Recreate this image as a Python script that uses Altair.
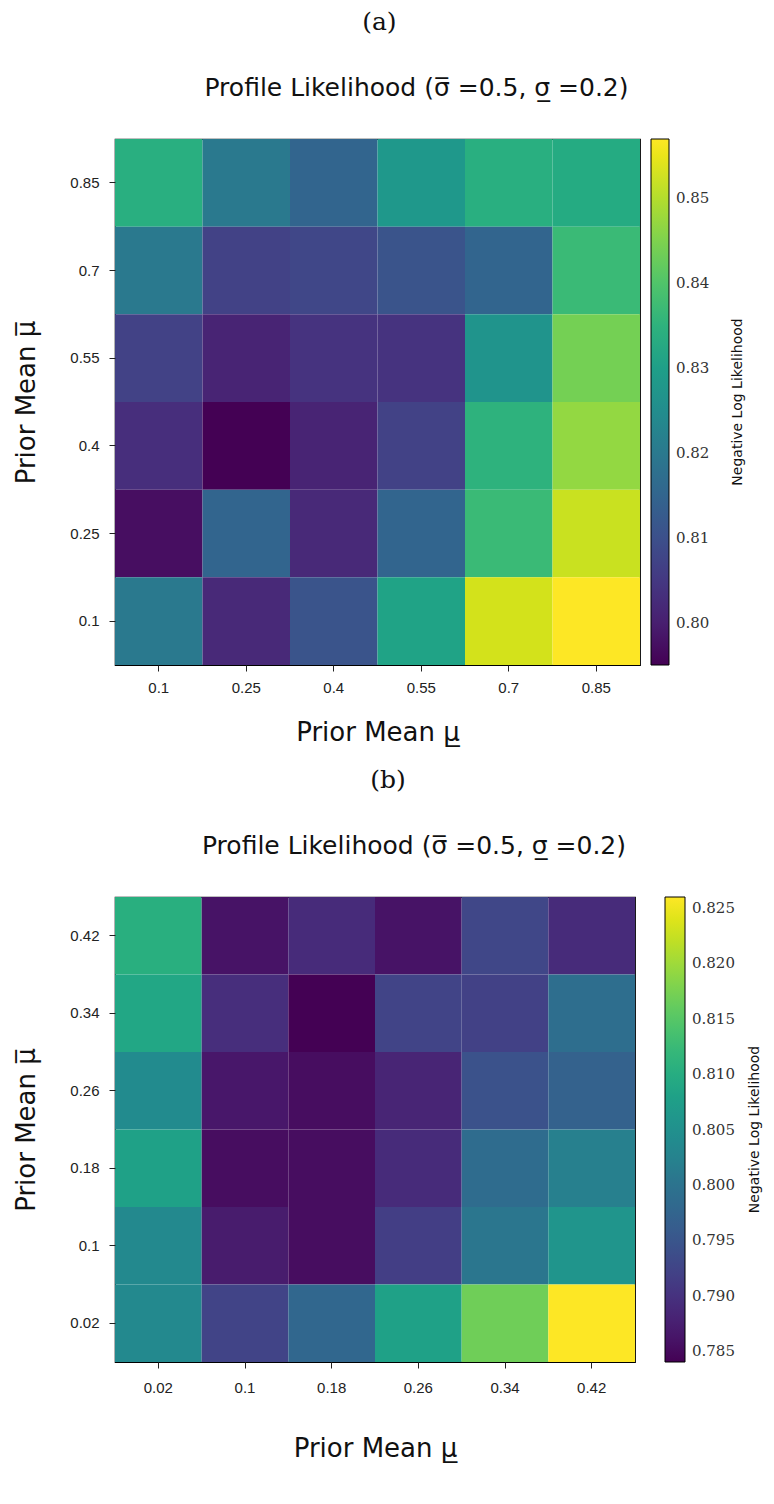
import altair as alt
import pandas as pd

# Panel (a)
xa = ["0.1", "0.25", "0.4", "0.55", "0.7", "0.85"]
ya = ["0.85", "0.7", "0.55", "0.4", "0.25", "0.1"]  # rows top -> bottom
za = [
    [0.834, 0.820, 0.815, 0.828, 0.834, 0.833],
    [0.820, 0.807, 0.808, 0.811, 0.815, 0.837],
    [0.807, 0.801, 0.804, 0.804, 0.827, 0.844],
    [0.803, 0.795, 0.801, 0.807, 0.835, 0.847],
    [0.797, 0.815, 0.802, 0.815, 0.837, 0.852],
    [0.820, 0.802, 0.811, 0.831, 0.853, 0.857],
]
ticks_a = [0.80, 0.81, 0.82, 0.83, 0.84, 0.85]

# Panel (b)
xb = ["0.02", "0.1", "0.18", "0.26", "0.34", "0.42"]
yb = ["0.42", "0.34", "0.26", "0.18", "0.1", "0.02"]  # rows top -> bottom
zb = [
    [0.8105, 0.7860, 0.7890, 0.7860, 0.7928, 0.7890],
    [0.8090, 0.7895, 0.7840, 0.7924, 0.7920, 0.7990],
    [0.8040, 0.7865, 0.7853, 0.7882, 0.7945, 0.7970],
    [0.8080, 0.7853, 0.7853, 0.7890, 0.7987, 0.8020],
    [0.8037, 0.7870, 0.7853, 0.7916, 0.8004, 0.8058],
    [0.8037, 0.7924, 0.7979, 0.8080, 0.8168, 0.8260],
]
ticks_b = [0.785, 0.790, 0.795, 0.800, 0.805, 0.810, 0.815, 0.820, 0.825]

TITLE = "Profile Likelihood (\u03c3\u0305 =0.5, \u03c3\u0332 =0.2)"
XT = "Prior Mean \u03bc\u0332"
YT = "Prior Mean \u03bc\u0305"
CBT = "Negative Log Likelihood"

SANS = "DejaVu Sans"


def table(xs, ys, zs):
    rows = []
    for i, y in enumerate(ys):
        for j, x in enumerate(xs):
            rows.append({"lo": x, "hi": y, "v": zs[i][j]})
    return pd.DataFrame(rows)


def panel(xs, ys, zs, ticks, fmt, w, h, label, cb_x, cb_w, cbt_x, xl_pad, xt_pad):
    df = table(xs, ys, zs)
    heat = alt.Chart(df).mark_rect().encode(
        x=alt.X("lo:O", sort=xs, title=XT,
                axis=alt.Axis(labelAngle=0, domain=False, tickSize=6,
                              labelPadding=xl_pad, titlePadding=xt_pad)),
        y=alt.Y("hi:O", sort=ys, title=YT,
                axis=alt.Axis(domain=False, tickSize=6, labelPadding=10,
                              titlePadding=30)),
        color=alt.Color("v:Q", scale=alt.Scale(scheme="viridis"), title=None,
                        legend=alt.Legend(
                            orient="none", legendX=w + cb_x, legendY=0,
                            direction="vertical",
                            values=ticks, format=fmt,
                            gradientLength=h, gradientThickness=cb_w,
                            gradientStrokeColor="black", gradientStrokeWidth=1,
                            labelFont="DejaVu Serif", labelFontSize=15,
                            labelColor="#333", labelOffset=7,
                            padding=0)),
    )
    cbt = alt.Chart(pd.DataFrame({"t": [CBT]})).mark_text(
        angle=270, font=SANS, fontSize=14, color="#111", baseline="middle",
        align="center"
    ).encode(text="t:N", x=alt.value(w + cbt_x), y=alt.value(h / 2))
    inner = alt.layer(heat, cbt).properties(
        width=w, height=h,
        title=alt.TitleParams(TITLE, fontSize=25, font=SANS,
                              fontWeight="normal", anchor="middle", offset=38,
                              frame="group", dx=39, color="#111"),
    )
    return alt.vconcat(inner, title=alt.TitleParams(
        label, fontSize=25, font="DejaVu Serif", fontWeight="normal",
        anchor="middle", offset=40, color="#111"))


pa = panel(xa, ya, za, ticks_a, ".2f", 525, 526, "(a)", 11, 18, 98, 9, 24)
pb = panel(xb, yb, zb, ticks_b, ".3f", 520, 465, "(b)", 30, 20, 120, 12, 40)

chart = alt.vconcat(pa, pb, spacing=22).resolve_scale(
    color="independent"
).properties(
    padding={"top": 2, "left": 5, "right": 0, "bottom": 5}
).configure_view(
    stroke="black", strokeWidth=1.2
).configure_axis(
    labelFont="Liberation Sans", labelFontSize=15, labelColor="#222",
    titleFont=SANS, titleFontSize=26, titleFontWeight="normal",
    titleColor="#111", tickColor="#222"
)

chart.save("out.html", embed_options={"renderer": "svg", "actions": False})
